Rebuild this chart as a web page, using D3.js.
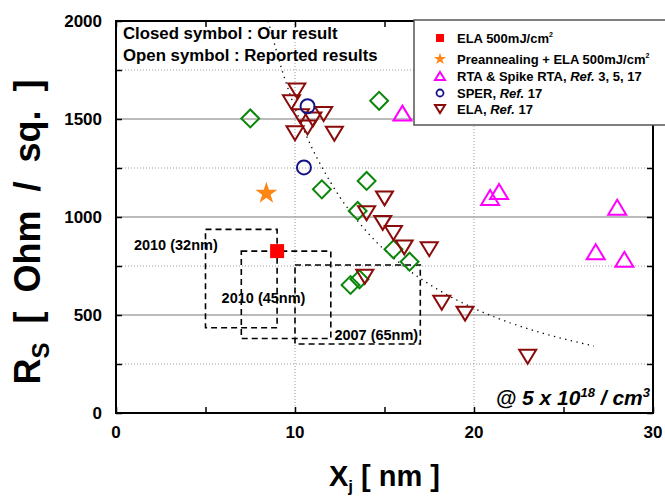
<!DOCTYPE html>
<html>
<head>
<meta charset="utf-8">
<script src="https://cdn.jsdelivr.net/npm/d3@7/dist/d3.min.js"></script>
<style>
body { margin: 0; background: #fff; }
svg text { font-family: "Liberation Sans", Arial, sans-serif; font-weight: bold; fill: #000; }
</style>
</head>
<body>
<div id="chart"></div>
<script>
// tick labels
var xTicks = [0, 10, 20, 30];
var yTicks = [0, 500, 1000, 1500, 2000];

// [Xj nm, Rs ohm/sq]
var elaOurs = [[9.0, 826]];
var preAnneal = [[8.4, 1121]];
var rtaRef = [[16.0, 1530], [20.9, 1100], [21.4, 1130], [28.0, 1050], [26.8, 823], [28.4, 784]];
var sperRef = [[10.7, 1565], [10.5, 1253]];
var elaRef = [[10.1, 1645], [9.8, 1586], [10.3, 1514], [11.0, 1498], [11.6, 1525], [10.7, 1457],
	[10.0, 1427], [12.2, 1425], [15.0, 1095], [14.0, 1019], [14.9, 970], [15.5, 918],
	[16.1, 845], [17.5, 836], [18.2, 562], [19.5, 507], [23.0, 287], [13.9, 695]];
var otherRef = [[7.5, 1503], [14.7, 1593], [11.5, 1141], [14.0, 1184], [13.5, 1031],
	[15.5, 835], [16.4, 772], [13.1, 653], [13.6, 682]];
var fitLine = [[8.5, 2000], [9.5, 1685], [10.5, 1443], [12, 1175], [14, 926], [16, 754],
	[18, 629], [20, 534], [22, 461], [24, 403], [26.7, 342]];
// roadmap windows: label, Xj range, Rs range
var roadmapLabels = ['2010 (32nm)', '2010 (45nm)', '2007 (65nm)'];
var roadmapX = [[5, 9], [7, 12], [10, 17]];
var roadmapY = [[435, 937], [380, 826], [352, 755]];

var legendLabels = ['ELA 500mJ/cm', 'Preannealing + ELA 500mJ/cm', 'RTA & Spike RTA, ', 'SPER, ', 'ELA, '];

(function () {
	'use strict';
	var W = 665, H = 497;
	var margin = {top: 21, left: 116, right: 12, bottom: 84};
	var innerW = W - margin.left - margin.right;
	var innerH = H - margin.top - margin.bottom;
	var gridSolid = '#7a7a7a';
	var gridDot = '#9a9a9a';

	var svg = d3.select('#chart').append('svg')
		.attr('width', W).attr('height', H);
	var g = svg.append('g')
		.attr('transform', 'translate(' + margin.left + ',' + margin.top + ')');

	var x = d3.scaleLinear().domain([0, 30]).range([0, innerW]);
	var y = d3.scaleLinear().domain([0, 2000]).range([innerH, 0]);

	// grid
	g.selectAll('.hsolid').data([500, 1000, 1500]).enter().append('line')
		.attr('x1', 0).attr('x2', innerW)
		.attr('y1', function (d) { return y(d); }).attr('y2', function (d) { return y(d); })
		.style('stroke', gridSolid).style('stroke-width', 1.2);
	g.selectAll('.hdot').data([250, 750, 1250, 1750]).enter().append('line')
		.attr('x1', 0).attr('x2', innerW)
		.attr('y1', function (d) { return y(d); }).attr('y2', function (d) { return y(d); })
		.style('stroke', gridDot).style('stroke-width', 1).style('stroke-dasharray', '1,2');
	g.selectAll('.vdot').data([10, 20]).enter().append('line')
		.attr('y1', 0).attr('y2', innerH)
		.attr('x1', function (d) { return x(d); }).attr('x2', function (d) { return x(d); })
		.style('stroke', gridDot).style('stroke-width', 1).style('stroke-dasharray', '1,2');

	// axes with inward ticks on all sides
	function styleAxis(sel) {
		sel.select('.domain').remove();
		sel.selectAll('.tick line').style('stroke', '#000').style('stroke-width', 1.5);
		sel.selectAll('.tick text').remove();
	}
	g.append('g').attr('transform', 'translate(0,' + innerH + ')')
		.call(d3.axisBottom(x).tickValues(d3.range(0, 31, 5)).tickSize(-6)).call(styleAxis);
	g.append('g')
		.call(d3.axisTop(x).tickValues(d3.range(0, 31, 5)).tickSize(-6)).call(styleAxis);
	g.append('g')
		.call(d3.axisLeft(y).tickValues(d3.range(0, 2001, 250)).tickSize(-6)).call(styleAxis);
	g.append('g').attr('transform', 'translate(' + innerW + ',0)')
		.call(d3.axisRight(y).tickValues(d3.range(0, 2001, 250)).tickSize(-6)).call(styleAxis);

	// tick labels
	g.selectAll('.xl').data(xTicks).enter().append('text')
		.attr('x', function (d) { return x(d); }).attr('y', innerH + 25)
		.style('text-anchor', 'middle').style('font-size', '17px')
		.text(function (d) { return d; });
	g.selectAll('.yl').data(yTicks).enter().append('text')
		.attr('x', -14).attr('y', function (d) { return y(d) + 6; })
		.style('text-anchor', 'end').style('font-size', '17px')
		.text(function (d) { return d; });

	// axis titles
	var xt = svg.append('text').attr('x', margin.left + innerW / 2).attr('y', 486)
		.style('text-anchor', 'middle').style('font-size', '29px');
	xt.append('tspan').text('X');
	xt.append('tspan').attr('dy', 6).style('font-size', '17px').text('j');
	xt.append('tspan').attr('dy', -6).text(' [ nm ]');

	var yt = svg.append('text')
		.attr('transform', 'translate(40,232) rotate(-90)')
		.style('text-anchor', 'middle').style('font-size', '36px').style('word-spacing', '9px');
	yt.append('tspan').text('R');
	yt.append('tspan').attr('dy', 9).style('font-size', '24px').text('S');
	yt.append('tspan').attr('dy', -9).text(' [ Ohm / sq. ]');

	// roadmap windows
	roadmapX.forEach(function (rx, i) {
		var ry = roadmapY[i];
		g.append('rect')
			.attr('x', x(rx[0])).attr('y', y(ry[1]))
			.attr('width', x(rx[1]) - x(rx[0])).attr('height', y(ry[0]) - y(ry[1]))
			.style('fill', 'none').style('stroke', '#000')
			.style('stroke-width', 1.6).style('stroke-dasharray', '6,4');
	});
	var labelPos = [[1.0, 832], [5.9, 560], [12.2, 372]];
	roadmapLabels.forEach(function (t, i) {
		g.append('text')
			.attr('x', x(labelPos[i][0])).attr('y', y(labelPos[i][1]))
			.style('font-size', '14.5px').text(t);
	});

	// dotted guide curve
	var line = d3.line()
		.x(function (d) { return x(d[0]); })
		.y(function (d) { return y(d[1]); })
		.curve(d3.curveMonotoneX);
	g.append('path').datum(fitLine)
		.attr('d', line)
		.style('fill', 'none').style('stroke', '#000')
		.style('stroke-width', 1.3).style('stroke-dasharray', '1.3,4.5');

	// marker shapes
	function triPath(w, h, down) {
		var s = down ? -1 : 1;
		return 'M0,' + (-s * h / 2) + 'L' + (w / 2) + ',' + (s * h / 2) + 'L' + (-w / 2) + ',' + (s * h / 2) + 'Z';
	}
	function pos(d) { return 'translate(' + x(d[0]) + ',' + y(d[1]) + ')'; }

	g.selectAll('.dia').data(otherRef).enter().append('path')
		.attr('d', d3.symbol().type(d3.symbolSquare).size(160))
		.attr('transform', function (d) { return pos(d) + ' rotate(45)'; })
		.style('fill', 'none').style('stroke', '#0a870a').style('stroke-width', 2);
	g.selectAll('.ela').data(elaRef).enter().append('path')
		.attr('d', triPath(17, 14, true))
		.attr('transform', pos)
		.style('fill', 'none').style('stroke', '#8b0a0a').style('stroke-width', 2);
	g.selectAll('.rta').data(rtaRef).enter().append('path')
		.attr('d', triPath(18, 15, false))
		.attr('transform', pos)
		.style('fill', 'none').style('stroke', '#ff00ff').style('stroke-width', 2);
	g.selectAll('.sper').data(sperRef).enter().append('circle')
		.attr('cx', function (d) { return x(d[0]); }).attr('cy', function (d) { return y(d[1]); })
		.attr('r', 7)
		.style('fill', 'none').style('stroke', '#141488').style('stroke-width', 2);
	g.selectAll('.pre').data(preAnneal).enter().append('path')
		.attr('d', d3.symbol().type(d3.symbolStar).size(150))
		.attr('transform', pos)
		.style('fill', '#ff8514');
	g.selectAll('.ours').data(elaOurs).enter().append('rect')
		.attr('x', function (d) { return x(d[0]) - 7; }).attr('y', function (d) { return y(d[1]) - 7; })
		.attr('width', 14).attr('height', 14)
		.style('fill', '#ff0000');

	// plot frame
	g.append('rect').attr('width', innerW).attr('height', innerH)
		.style('fill', 'none').style('stroke', '#000').style('stroke-width', 2);

	// notes
	g.append('text').attr('x', 7).attr('y', 18).style('font-size', '16.8px')
		.text('Closed symbol : Our result');
	g.append('text').attr('x', 7).attr('y', 40).style('font-size', '16.8px')
		.text('Open symbol : Reported results');
	var at = g.append('text').attr('x', innerW - 3).attr('y', innerH - 8)
		.style('text-anchor', 'end').style('font-size', '21px').style('font-style', 'italic');
	at.append('tspan').text('@ 5 x 10');
	at.append('tspan').attr('dy', -8).style('font-size', '13px').text('18');
	at.append('tspan').attr('dy', 8).text(' / cm');
	at.append('tspan').attr('dy', -8).style('font-size', '13px').text('3');

	// legend
	var lg = svg.append('g').attr('transform', 'translate(414,20)');
	lg.append('rect').attr('width', 260).attr('height', 105)
		.style('fill', '#fff').style('stroke', '#555').style('stroke-width', 1.5);
	var rowY = [18, 39, 56, 73, 89];
	var sx = 26, tx = 43;
	lg.append('rect').attr('x', sx - 4).attr('y', rowY[0] - 4).attr('width', 8).attr('height', 8)
		.style('fill', '#ff0000');
	lg.append('path').attr('d', d3.symbol().type(d3.symbolStar).size(45))
		.attr('transform', 'translate(' + sx + ',' + rowY[1] + ')').style('fill', '#ff8514');
	lg.append('path').attr('d', triPath(10, 8, false))
		.attr('transform', 'translate(' + sx + ',' + rowY[2] + ')')
		.style('fill', 'none').style('stroke', '#ff00ff').style('stroke-width', 2);
	lg.append('circle').attr('cx', sx).attr('cy', rowY[3]).attr('r', 3.5)
		.style('fill', 'none').style('stroke', '#141488').style('stroke-width', 1.8);
	lg.append('path').attr('d', triPath(10, 8, true))
		.attr('transform', 'translate(' + sx + ',' + rowY[4] + ')')
		.style('fill', 'none').style('stroke', '#8b0a0a').style('stroke-width', 2);

	var refs = [null, null, ' 3, 5, 17', ' 17', ' 17'];
	legendLabels.forEach(function (t, i) {
		var lt = lg.append('text').attr('x', tx).attr('y', rowY[i] + 5).style('font-size', '13px');
		lt.append('tspan').text(t);
		if (i < 2) {
			lt.append('tspan').attr('dy', -6).style('font-size', '7px').text('2');
		} else {
			lt.append('tspan').style('font-style', 'italic').text('Ref.');
			lt.append('tspan').text(refs[i]);
		}
	});
})();
</script>
</body>
</html>
